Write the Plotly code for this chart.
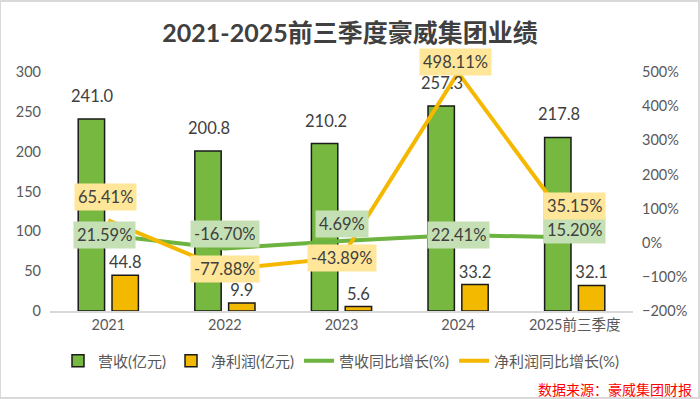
import plotly.graph_objects as go

categories = ["2021", "2022", "2023", "2024", "2025前三季度"]
revenue = [241.0, 200.8, 210.2, 257.3, 217.8]
net_profit = [44.8, 9.9, 5.6, 33.2, 32.1]
rev_growth = [21.59, -16.70, 4.69, 22.41, 15.20]
np_growth = [65.41, -77.88, -43.89, 498.11, 35.15]

FONT = "Lato, 'Noto Sans CJK SC', sans-serif"
GREEN = "#76B840"
YELLOW = "#F3B800"
LGREEN = "#6DB33F"
LYELLOW = "#F5B800"
TXT = "#404040"
LBL = 16.5

fig = go.Figure()
fig.add_trace(go.Bar(x=categories, y=revenue, name="营收(亿元)",
                     marker=dict(color=GREEN, line=dict(color="#1a1a1a", width=1.5)),
                     yaxis="y"))
fig.add_trace(go.Bar(x=categories, y=net_profit, name="净利润(亿元)",
                     marker=dict(color=YELLOW, line=dict(color="#1a1a1a", width=1.5)),
                     text=[f"{v:.1f}" for v in net_profit], textposition="outside",
                     constraintext="none",
                     textfont=dict(size=LBL, color=TXT, family=FONT), cliponaxis=False,
                     yaxis="y"))
fig.add_trace(go.Scatter(x=categories, y=rev_growth, name="营收同比增长(%)", mode="lines",
                         line=dict(color=LGREEN, width=4), yaxis="y2"))
fig.add_trace(go.Scatter(x=categories, y=np_growth, name="净利润同比增长(%)", mode="lines",
                         line=dict(color=LYELLOW, width=4), yaxis="y2"))

ann = []
for i, v in enumerate(revenue):
    ann.append(dict(x=i, y=v, xref="x", yref="y", text=f"{v:.1f}", showarrow=False,
                    xshift=-16, yshift=11, yanchor="bottom",
                    font=dict(size=LBL, color=TXT, family=FONT)))

rev_shift = [0, 14, 17, 0, 8]
rev_xs = [-4, 0, 0, 0, 0]
for i, (v, s, xs) in enumerate(zip(rev_growth, rev_shift, rev_xs)):
    ann.append(dict(x=i, y=v, xref="x", yref="y2", text=f"{v:.2f}%", showarrow=False,
                    yshift=s, xshift=xs, bgcolor="#C5E0B4", borderpad=3,
                    font=dict(size=LBL, color=TXT, family=FONT)))
np_shift = [23, 0, 0, 11, 25]
np_xs = [-3, 0, 0, -3, 0]
for i, (v, s, xs) in enumerate(zip(np_growth, np_shift, np_xs)):
    ann.append(dict(x=i, y=v, xref="x", yref="y2", text=f"{v:.2f}%", showarrow=False,
                    yshift=s, xshift=xs, bgcolor="#FFE699", borderpad=3,
                    font=dict(size=LBL, color=TXT, family=FONT)))

ann.append(dict(x=1.105, y=-0.326, xref="paper", yref="paper", text="数据来源：豪威集团财报",
                showarrow=False, xanchor="right", yanchor="middle",
                font=dict(size=14, color="#FF0000", family="'Noto Sans CJK SC', sans-serif")))

fig.update_layout(
    width=700, height=399,
    margin=dict(l=50, r=67, t=72, b=88),
    paper_bgcolor="white", plot_bgcolor="white",
    font=dict(family=FONT, color="#595959", size=14),
    title=dict(text="<b>2021-2025前三季度豪威集团业绩</b>", x=0.5, xanchor="center",
               y=0.917, yanchor="middle", yref="container",
               font=dict(size=25, color=TXT, family=FONT)),
    barmode="group", bargap=0.42, bargroupgap=0.22,
    xaxis=dict(type="category", range=[-0.5, 4.5], showline=True, linecolor="#D9D9D9",
               linewidth=1.5, ticks="", tickfont=dict(size=14.5, color="#595959")),
    yaxis=dict(range=[0, 300], dtick=50, showgrid=False, zeroline=False,
               tickfont=dict(size=14.5, color="#595959"), ticklabelstandoff=8),
    yaxis2=dict(range=[-200, 500], dtick=100, overlaying="y", side="right", showgrid=False,
                zeroline=False, ticksuffix="%", tickfont=dict(size=14.5, color="#595959"),
                ticklabelstandoff=8),
    legend=dict(orientation="h", x=0.5, xanchor="center", y=-0.209, yanchor="middle",
                font=dict(size=15, color="#595959"), traceorder="normal"),
    annotations=ann,
    shapes=[dict(type="rect", xref="paper", yref="paper",
                 x0=-50/583, x1=1+66/583, y0=-87/239, y1=1+71/239,
                 line=dict(color="#D9D9D9", width=2), fillcolor="rgba(0,0,0,0)", layer="below")],
)

fig.write_html("out.html", config={"displayModeBar": False},
               post_script="document.body.style.margin='0px';")
